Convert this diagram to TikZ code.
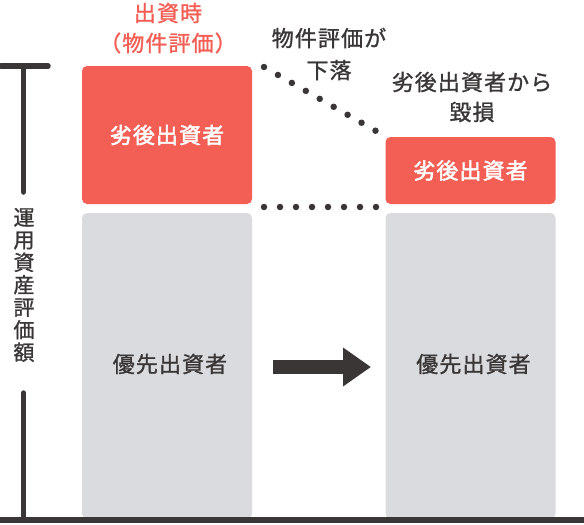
\documentclass[tikz,border=0pt]{standalone}
\usepackage{fontspec}
\setmainfont{Noto Sans CJK JP}[LetterSpace=5, FakeBold=1.2]
\newfontfamily\boxfont{Noto Sans CJK JP}[LetterSpace=5, FakeBold=2.2]
\usepackage{xcolor}
\usepackage{tikz}
\usetikzlibrary{arrows.meta, positioning}

\definecolor{juniorred}{HTML}{F35E55}
\definecolor{seniorgray}{HTML}{D9DBDF}
\definecolor{inkdark}{HTML}{3A3636}

\begin{document}
\begin{tikzpicture}[
    x=1pt, y=-1pt, font=\fontsize{22}{30}\selectfont,
    junior/.style={fill=juniorred, rounded corners=5pt, minimum width=170pt, text=white, font=\fontsize{22}{30}\boxfont},
    senior/.style={fill=seniorgray, rounded corners=5pt, minimum width=170pt, text=inkdark},
    label/.style={text=inkdark, align=center, inner sep=0pt},
    axisline/.style={line width=5.5pt, inkdark, line cap=round},
    dots/.style={line width=6.5pt, inkdark, line cap=round, dash pattern=on 0pt off 16pt},
    movearrow/.style={line width=14pt, inkdark, -{Triangle[length=28pt, width=37pt]}}
]
    \useasboundingbox (0,0) rectangle (584,525);

    % boxes
    \node[senior, minimum height=306pt] (s1) at (167,366) {};
    \node[senior, minimum height=306pt] (s2) at (470.5,366) {};
    \node[junior, minimum height=138pt] (j1) at (167,135) {劣後出資者};
    \node[junior, minimum height=67pt]  (j2) at (470.5,170.5) {劣後出資者};
    \node[label] (s1t) at (170,364) {優先出資者};
    \node[label] (s2t) at (473.5,364) {優先出資者};

    % labels
    \node[label, text=juniorred] (t1) at (168,13) {出資時};
    \node[label, text=juniorred] (t2) at (168,43) {（物件評価）};
    \node[label, font=\fontsize{22}{32}\selectfont] (drop) at (329,54) {物件評価が\\下落};
    \node[label, font=\fontsize{22}{30}\selectfont] (loss) at (472,97) {劣後出資者から\\毀損};

    % value axis
    \coordinate (axtop) at (23.5,66);
    \coordinate (axmid1) at (23.5,192);
    \coordinate (axmid2) at (23.5,393);
    \coordinate (axbot) at (23.5,518);
    \node[label, font=\fontsize{21}{22.5}\selectfont] (axlabel) at (24,285) {運\\用\\資\\産\\評\\価\\額};
    \draw[axisline] (1,66) -- (48,66);
    \draw[axisline] (axtop) -- (axmid1);
    \draw[axisline] (axmid2) -- (axbot);
    \draw[line width=5.5pt, inkdark] (0,520) -- (584,520);

    % dotted guides
    \coordinate (d1) at (264,67);
    \coordinate (d2) at (376,131);
    \coordinate (d3) at (264,207);
    \coordinate (d4) at (376.5,207);
    \draw[dots, dash pattern=on 0pt off 16.05pt] (d1) -- (d2);
    \draw[dots] (d3) -- (d4);

    % arrow
    \coordinate (a1) at (273,367);
    \coordinate (a2) at (371,367);
    \draw[movearrow] (a1) -- (a2);
\end{tikzpicture}
\end{document}
